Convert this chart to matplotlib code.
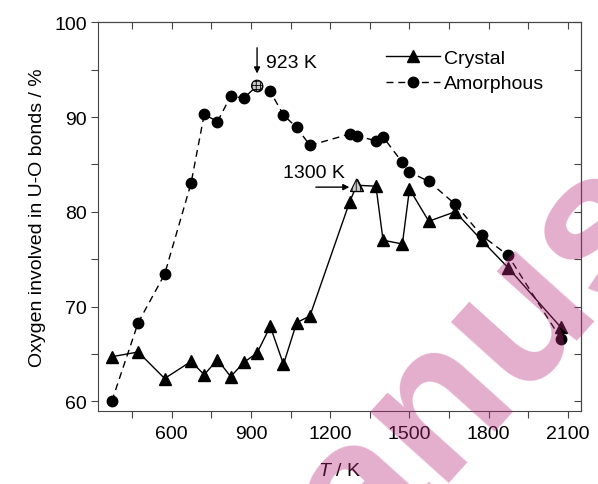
import matplotlib
matplotlib.use('Agg')
import matplotlib.pyplot as plt
from matplotlib.ticker import MultipleLocator

plt.rcParams['font.family'] = ['Liberation Sans', 'DejaVu Sans']
plt.rcParams['mathtext.fontset'] = 'custom'
plt.rcParams['mathtext.it'] = 'Liberation Sans:italic'
plt.rcParams['mathtext.rm'] = 'Liberation Sans'
plt.rcParams['hatch.linewidth'] = 0.6

# data
T_cry = [373, 473, 573, 673, 723, 773, 823, 873, 923, 973, 1023, 1073, 1123,
         1273, 1300, 1373, 1400, 1473, 1500, 1573, 1673, 1773, 1873, 2073]
cry = [64.7, 65.2, 62.4, 64.2, 62.8, 64.4, 62.6, 64.1, 65.1, 67.9, 63.9, 68.3, 69.0,
       81.0, 82.8, 82.7, 77.0, 76.6, 82.4, 79.0, 80.0, 77.0, 74.1, 67.8]
T_amo = [373, 473, 573, 673, 723, 773, 823, 873, 923, 973, 1023, 1073, 1123,
         1273, 1300, 1373, 1400, 1473, 1500, 1573, 1673, 1773, 1873, 2073]
amo = [60.0, 68.3, 73.4, 83.0, 90.3, 89.5, 92.2, 92.0, 93.3, 92.7, 90.2, 88.9, 87.0,
       88.2, 88.0, 87.5, 87.9, 85.2, 84.2, 83.2, 80.8, 77.5, 75.4, 66.6]
i_amo = 8    # 923 K point
i_cry = 14   # 1300 K point

fig = plt.figure(figsize=(5.98, 4.85), dpi=100)
ax = fig.add_axes([0.1644, 0.1511, 0.8066, 0.8009])

ax.plot(T_cry, cry, '-', color='k', lw=1.0, marker='^', ms=8.5, label='Crystal', zorder=3)
ax.plot(T_amo, amo, '--', color='k', lw=1.0, dashes=(5, 3.5), marker='o', ms=7.5,
        label='Amorphous', zorder=3)

# highlighted points
ax.scatter([T_amo[i_amo]], [amo[i_amo]], marker='o', s=64, facecolor='#c8c8c8',
           edgecolor='k', linewidth=0.8, hatch='++++', zorder=5)
ax.scatter([T_cry[i_cry]], [cry[i_cry]], marker='^', s=80, facecolor='#c8c8c8',
           edgecolor='k', linewidth=0.8, hatch='||||', zorder=5)

ax.annotate('', xy=(923, 94.3), xytext=(923, 97.6),
            arrowprops=dict(arrowstyle='-|>', color='k', lw=1.0, mutation_scale=9))
ax.text(955, 95.8, '923 K', fontsize=14, va='center', ha='left')
ax.annotate('', xy=(1283, 82.6), xytext=(1135, 82.6),
            arrowprops=dict(arrowstyle='-|>', color='k', lw=1.0, mutation_scale=9))
ax.text(1020, 84.1, '1300 K', fontsize=14, va='center', ha='left')

ax.set_xlim(322, 2148)
ax.set_ylim(59, 100)
ax.xaxis.set_major_locator(MultipleLocator(300))
ax.xaxis.set_minor_locator(MultipleLocator(150))
ax.yaxis.set_major_locator(MultipleLocator(10))
ax.yaxis.set_minor_locator(MultipleLocator(5))
ax.tick_params(which='both', direction='out', length=5, width=0.8, color='#444444',
               labelsize=14, top=False, right=False)
ax.tick_params(axis='x', pad=5)
ax.tick_params(axis='y', pad=3)

# inward ticks on top/right
axt = ax.secondary_xaxis('top')
axt.xaxis.set_major_locator(MultipleLocator(150))
axt.tick_params(direction='in', length=5, width=0.8, color='#444444', labeltop=False)
axr = ax.secondary_yaxis('right')
axr.yaxis.set_major_locator(MultipleLocator(5))
axr.tick_params(direction='in', length=5, width=0.8, color='#444444', labelright=False)
for a in (ax, axt, axr):
    for s in a.spines.values():
        s.set_linewidth(0.8)
        s.set_color('#444444')

ax.set_xlabel('$T$ / K', fontsize=14, labelpad=15)
ax.set_ylabel('Oxygen involved in U-O bonds / %', fontsize=14, labelpad=6)

ax.legend(loc='upper left', bbox_to_anchor=(0.56, 0.975), frameon=False, fontsize=14,
          handlelength=2.8, handletextpad=0.2, labelspacing=0.4)

# pink watermark
fig.text(0.418, -0.421, 'Manuscript', rotation=48, rotation_mode='anchor',
         ha='left', va='baseline', fontsize=144, fontweight='bold',
         color='#b8287a', alpha=0.38, zorder=10)

fig.savefig('out.png', dpi=100)
